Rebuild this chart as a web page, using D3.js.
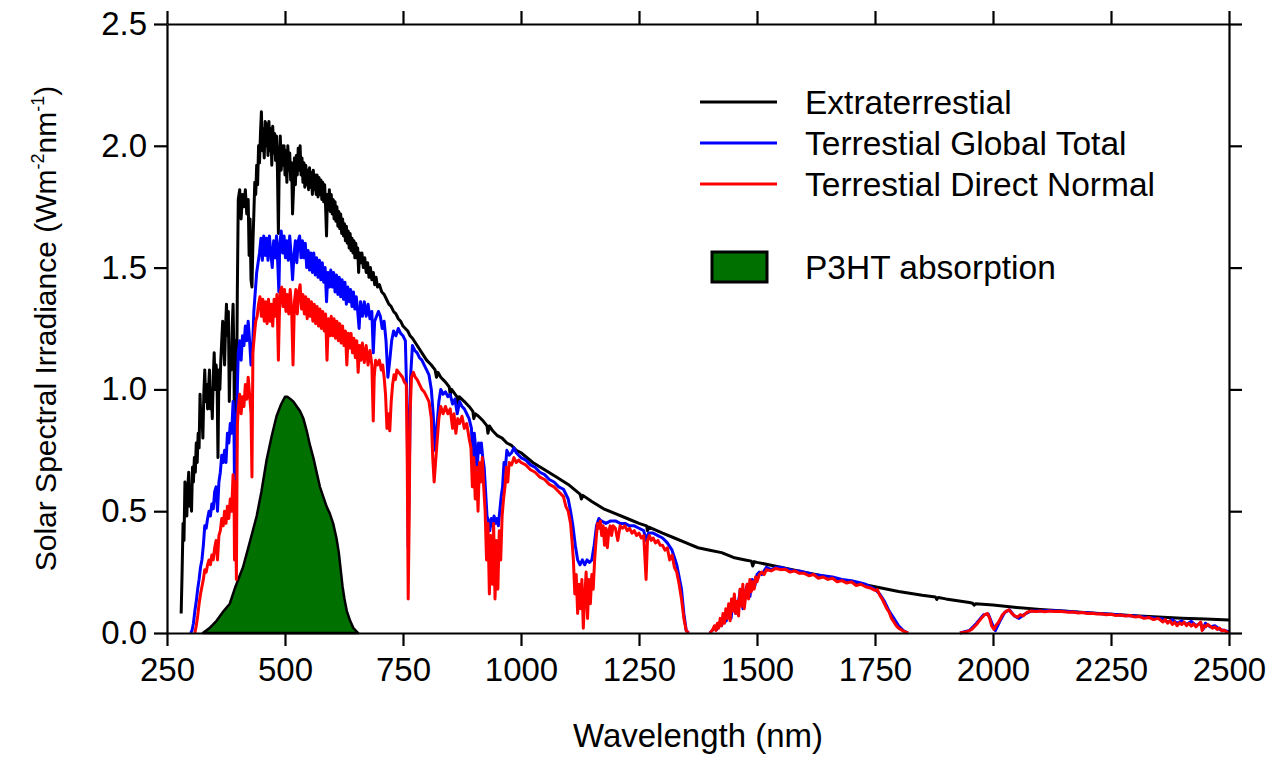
<!DOCTYPE html>
<html>
<head>
<meta charset="utf-8">
<script src="https://cdn.jsdelivr.net/npm/d3@7"></script>
<style>
  body { margin: 0; background: #fff; }
  svg text { font-family: "Liberation Sans", Arial, Helvetica, sans-serif; fill: #000; }
</style>
</head>
<body>
<div id="chart"></div>
<script>
// spectra: [wavelength (nm), irradiance (W m-2 nm-1)]
// null = no curve drawn (absorbed to zero)
const extraterrestrial = [
  [280,0.08],[282,0.25],[284,0.45],[286,0.38],[288,0.62],[290,0.55],[292,0.48],[294,0.6],[296,0.66],[298,0.52],
  [300,0.6],[302,0.5],[304,0.68],[306,0.62],[308,0.72],[310,0.66],[312,0.78],[314,0.7],[316,0.82],[318,0.76],
  [320,0.98],[322,0.85],[324,0.9],[326,0.8],[328,0.98],[330,1.08],[332,0.95],[334,1.02],[336,0.92],[338,1.0],
  [340,1.08],[342,0.92],[344,1.0],[346,0.88],[348,1.05],[350,1.15],[352,1.0],[354,1.1],[356,1.05],[358,0.72],
  [360,1.08],[362,1.0],[364,1.12],[366,1.2],[368,1.28],[370,1.2],[372,1.1],[374,1.25],[376,1.35],[378,1.22],
  [380,1.32],[382,0.95],[384,1.15],[386,1.08],[388,1.25],[390,1.35],[392,1.1],[393,0.75],[395,1.2],[397,0.85],
  [399,1.4],[401,1.78],[404,1.82],[407,1.7],[410,1.8],[413,1.75],[416,1.82],[419,1.72],[422,1.78],[424,1.55],
  [426,1.7],[428,1.45],[430,1.42],[432,1.6],[434,1.72],[436,1.85],[438,1.8],[440,1.92],[442,1.84],[444,2.0],
  [446,1.93],[448,2.05],[450,2.14],[452,1.98],[454,2.07],[456,1.95],[458,2.1],[460,2.0],[462,2.09],[464,1.96],
  [466,2.1],[468,1.98],[470,2.07],[472,1.92],[474,2.08],[476,1.97],[478,2.05],[480,1.94],[482,2.04],[484,1.9],
  [486,1.64],[488,1.95],[490,2.04],[492,1.9],[494,2.0],[496,1.92],[498,2.0],[500,1.88],[502,1.98],[504,1.85],
  [506,2.0],[508,1.9],[510,1.97],[512,1.86],[514,1.93],[516,1.72],[518,1.82],[520,1.95],[522,1.84],[524,1.96],
  [526,1.88],[528,1.99],[530,1.9],[532,2.0],[534,1.88],[536,1.95],[538,1.85],[540,1.93],[542,1.83],[544,1.92],
  [546,1.84],[548,1.9],[550,1.82],[552,1.91],[554,1.83],[556,1.89],[558,1.8],[560,1.9],[562,1.82],[564,1.88],
  [566,1.8],[568,1.88],[570,1.79],[572,1.87],[574,1.8],[576,1.86],[578,1.78],[580,1.85],[582,1.77],[584,1.84],
  [586,1.75],[588,1.63],[590,1.8],[592,1.74],[594,1.82],[596,1.73],[598,1.8],[600,1.72],[602,1.78],[604,1.7],
  [606,1.77],[608,1.69],[610,1.75],[612,1.67],[614,1.73],[616,1.66],[618,1.72],[620,1.64],[622,1.7],[624,1.63],
  [626,1.68],[628,1.61],[630,1.67],[632,1.6],[634,1.65],[636,1.58],[638,1.64],[640,1.57],[642,1.62],[644,1.56],
  [646,1.61],[648,1.54],[650,1.6],[652,1.54],[654,1.58],[656,1.48],[658,1.56],[660,1.52],[663,1.56],[666,1.5],
  [669,1.54],[672,1.48],[675,1.52],[678,1.46],[681,1.5],[684,1.45],[687,1.48],[690,1.43],[693,1.46],[696,1.42],
  [700,1.43],[705,1.4],[710,1.39],[715,1.37],
  [720,1.35],[725,1.34],[730,1.32],[735,1.31],[740,1.29],[745,1.28],[750,1.26],[755,1.25],[760,1.24],[765,1.22],
  [770,1.21],[780,1.18],[790,1.15],[800,1.12],[810,1.1],[818,1.08],[821,1.05],[824,1.07],[830,1.05],[840,1.03],
  [848,1.01],[850,0.98],[853,1.0],[864,0.97],[866,0.94],[869,0.97],[880,0.95],[890,0.93],[898,0.91],[900,0.88],
  [903,0.9],[910,0.89],[920,0.87],[928,0.85],[930,0.82],[933,0.85],[940,0.83],[950,0.81],[960,0.8],[970,0.78],
  [980,0.77],[990,0.75],[1000,0.74],[1025,0.7],[1050,0.67],[1075,0.64],[1100,0.61],[1125,0.57],[1128,0.55],
  [1131,0.565],[1150,0.54],[1175,0.51],[1200,0.49],[1225,0.47],[1250,0.45],[1266,0.44],[1268,0.42],[1271,0.435],
  [1300,0.41],[1325,0.39],[1350,0.37],[1375,0.35],[1400,0.34],[1425,0.33],[1450,0.31],[1475,0.3],[1488,0.295],
  [1491,0.275],[1494,0.293],[1500,0.29],[1550,0.27],[1600,0.25],[1650,0.23],[1700,0.21],[1750,0.19],[1800,0.17],
  [1850,0.155],[1878,0.148],[1881,0.138],[1884,0.146],[1900,0.14],[1950,0.125],[1957,0.122],[1960,0.114],
  [1963,0.12],[2000,0.115],[2050,0.105],[2100,0.097],[2150,0.09],[2200,0.083],[2250,0.077],[2300,0.071],
  [2350,0.066],[2400,0.061],[2450,0.057],[2500,0.053]
];

const globalTotal = [
  [300,0],[303,0.01],[306,0.04],[309,0.09],[312,0.13],[315,0.18],[318,0.22],[321,0.27],[324,0.3],[327,0.36],
  [330,0.44],[333,0.43],[336,0.47],[339,0.5],[342,0.48],[345,0.53],[348,0.51],[351,0.58],[354,0.6],[357,0.5],
  [360,0.62],[363,0.66],[366,0.73],[369,0.7],[372,0.75],[375,0.7],[378,0.82],[381,0.78],[384,0.86],[387,0.82],
  [390,0.95],[392,0.85],[393,0.58],[395,0.9],[397,0.68],[399,1.0],[401,1.15],[404,1.2],[407,1.12],[410,1.22],
  [413,1.18],[416,1.26],[419,1.2],[422,1.28],[425,1.2],[428,1.1],[431,1.15],[434,1.32],[437,1.4],[440,1.48],
  [443,1.52],[446,1.56],[449,1.62],[452,1.53],[455,1.63],[458,1.55],[461,1.62],[464,1.53],[467,1.63],[470,1.56],
  [473,1.5],[476,1.61],[479,1.54],[482,1.63],[485,1.5],[487,1.4],[489,1.6],[492,1.65],[495,1.56],[498,1.63],
  [501,1.54],[504,1.61],[507,1.53],[510,1.63],[513,1.55],[516,1.45],[519,1.55],[522,1.61],[525,1.52],[528,1.61],
  [531,1.63],[534,1.54],[537,1.61],[540,1.54],[543,1.6],[546,1.5],[549,1.57],[552,1.49],[555,1.56],[558,1.48],
  [561,1.56],[564,1.47],[567,1.54],[570,1.46],[573,1.53],[576,1.45],[579,1.52],[582,1.44],[585,1.5],[588,1.36],
  [591,1.48],[594,1.42],[597,1.49],[600,1.42],[603,1.48],[606,1.4],[609,1.47],[612,1.39],[615,1.46],[618,1.38],
  [621,1.45],[624,1.37],[627,1.44],[630,1.35],[633,1.42],[636,1.36],[639,1.41],[642,1.34],[645,1.4],[648,1.33],
  [651,1.38],[654,1.32],[657,1.25],[660,1.36],[664,1.3],[668,1.36],[672,1.3],[676,1.35],[680,1.29],[684,1.32],
  [687,1.15],[690,1.28],[694,1.3],[698,1.32],[702,1.3],[706,1.25],[710,1.28],[714,1.2],[718,1.05],[722,1.12],
  [726,1.2],[730,1.24],[735,1.22],[740,1.25],[745,1.23],[750,1.22],[755,1.2],[759,0.9],[761,0.35],[763,0.6],
  [766,1.05],[770,1.18],[775,1.16],[780,1.15],[785,1.13],[790,1.12],[795,1.1],[800,1.08],[805,1.06],[810,1.0],
  [814,0.9],[818,0.75],[822,0.85],[826,0.95],[830,1.0],[835,0.98],[840,0.99],[845,0.97],[850,0.98],[855,0.94],
  [860,0.96],[865,0.9],[870,0.95],[875,0.93],[880,0.92],[885,0.9],[890,0.88],[895,0.84],[898,0.7],[901,0.82],
  [904,0.76],[907,0.66],[910,0.78],[913,0.74],[916,0.78],[919,0.72],[922,0.68],[925,0.58],[928,0.48],[931,0.46],
  [934,0.42],[937,0.47],[940,0.44],[943,0.48],[946,0.45],[949,0.47],[952,0.44],[955,0.5],[958,0.56],[961,0.6],
  [964,0.7],[967,0.68],[970,0.75],[975,0.73],[980,0.74],[985,0.76],[990,0.74],[995,0.73],[1000,0.72],[1010,0.71],
  [1020,0.69],[1030,0.68],[1040,0.66],[1050,0.65],[1060,0.63],[1070,0.62],[1080,0.6],[1090,0.59],[1100,0.55],
  [1105,0.5],[1110,0.44],[1115,0.36],[1120,0.3],[1125,0.28],[1130,0.3],[1135,0.28],[1140,0.3],[1145,0.29],
  [1150,0.3],[1155,0.36],[1160,0.44],[1165,0.47],[1170,0.46],[1180,0.45],[1190,0.46],[1200,0.46],[1210,0.45],
  [1220,0.45],[1230,0.44],[1240,0.44],[1250,0.43],[1260,0.42],[1265,0.38],[1270,0.41],[1280,0.41],[1290,0.4],
  [1300,0.39],[1310,0.37],[1320,0.34],[1330,0.28],[1340,0.18],[1345,0.08],[1350,0.01],[1355,0],[1375,null],
  [1400,0],[1405,0.01],[1410,0.02],[1415,0.015],[1420,0.04],[1425,0.03],[1430,0.07],[1435,0.05],[1440,0.1],
  [1445,0.06],[1450,0.14],[1455,0.08],[1460,0.12],[1465,0.18],[1470,0.1],[1475,0.17],[1480,0.2],[1485,0.15],
  [1490,0.22],[1495,0.19],[1500,0.24],[1505,0.25],[1510,0.24],[1520,0.27],[1530,0.26],[1540,0.27],[1550,0.27],
  [1560,0.265],[1570,0.26],[1580,0.255],[1590,0.255],[1600,0.25],[1620,0.24],[1640,0.235],[1660,0.23],
  [1680,0.22],[1700,0.215],[1720,0.205],[1730,0.2],[1740,0.19],[1750,0.18],[1760,0.16],[1770,0.13],[1780,0.09],
  [1790,0.06],[1800,0.03],[1810,0.01],[1820,0],[1870,null],
  [1930,0],[1950,0.01],[1965,0.04],[1980,0.075],[1990,0.078],[2000,0.03],[2005,0.01],[2015,0.05],[2025,0.085],
  [2035,0.095],[2045,0.07],[2055,0.06],[2065,0.075],[2080,0.09],[2100,0.09],[2120,0.092],[2140,0.09],
  [2160,0.088],[2180,0.085],[2200,0.083],[2220,0.08],[2240,0.078],[2260,0.076],[2280,0.072],[2300,0.07],
  [2320,0.066],[2340,0.062],[2360,0.058],[2370,0.045],[2380,0.055],[2390,0.04],[2400,0.05],[2410,0.035],
  [2420,0.048],[2430,0.03],[2440,0.04],[2445,0.015],[2450,0.04],[2460,0.025],[2470,0.03],[2480,0.015],
  [2490,0.01],[2500,0.005]
];

const directNormal = [
  [309,0],[312,0.03],[315,0.07],[318,0.12],[321,0.16],[324,0.19],[327,0.22],[330,0.26],[333,0.25],[336,0.28],
  [339,0.3],[342,0.28],[345,0.32],[348,0.3],[351,0.35],[354,0.38],[357,0.3],[360,0.4],[363,0.42],[366,0.47],
  [369,0.44],[372,0.5],[375,0.45],[378,0.52],[381,0.47],[384,0.55],[387,0.5],[390,0.65],[392,0.58],[393,0.3],
  [395,0.62],[397,0.22],[399,0.85],[401,0.92],[404,0.98],[407,0.9],[410,0.97],[413,0.93],[416,1.02],[419,0.96],
  [422,1.05],[425,0.98],[428,0.9],[430,0.64],[432,1.15],[435,1.22],[438,1.28],[441,1.3],[444,1.35],[447,1.38],
  [450,1.3],[453,1.37],[456,1.28],[459,1.36],[462,1.27],[465,1.37],[468,1.28],[471,1.35],[474,1.26],[477,1.37],
  [480,1.3],[483,1.39],[486,1.12],[488,1.3],[490,1.4],[493,1.42],[496,1.34],[499,1.41],[502,1.32],[505,1.39],
  [508,1.31],[511,1.41],[514,1.33],[517,1.1],[520,1.36],[523,1.41],[526,1.31],[529,1.4],[532,1.43],[535,1.33],
  [538,1.39],[541,1.31],[544,1.38],[547,1.29],[550,1.37],[553,1.3],[556,1.36],[559,1.28],[562,1.35],[565,1.27],
  [568,1.34],[571,1.26],[574,1.33],[577,1.25],[580,1.32],[583,1.24],[586,1.31],[589,1.12],[592,1.29],[595,1.22],
  [598,1.3],[601,1.22],[604,1.29],[607,1.21],[610,1.28],[613,1.2],[616,1.27],[619,1.19],[622,1.26],[625,1.18],
  [628,1.24],[631,1.1],[634,1.23],[637,1.17],[640,1.23],[643,1.15],[646,1.21],[649,1.13],[652,1.2],[655,1.07],
  [658,1.18],[661,1.12],[664,1.19],[668,1.11],[672,1.18],[676,1.1],[680,1.16],[684,1.1],[687,0.87],[689,1.05],
  [692,1.12],[696,1.1],[700,1.12],[704,1.08],[707,1.1],[710,1.05],[713,0.98],[716,0.84],[719,0.9],[722,0.83],
  [725,0.95],[728,1.02],[731,1.06],[734,1.04],[737,1.08],[741,1.07],[745,1.06],[749,1.05],[753,1.03],[757,1.02],
  [759,0.7],[761,0.14],[763,0.45],[765,0.9],[768,1.05],[772,1.07],[776,1.05],[780,1.04],[785,1.02],[790,1.0],
  [795,0.99],[800,0.97],[805,0.95],[810,0.88],[813,0.72],[816,0.62],[819,0.7],[822,0.78],[826,0.88],[830,0.93],
  [835,0.9],[840,0.93],[845,0.9],[850,0.92],[855,0.84],[858,0.9],[862,0.82],[866,0.88],[870,0.86],[875,0.89],
  [880,0.84],[885,0.86],[890,0.8],[894,0.76],[897,0.6],[900,0.72],[903,0.55],[906,0.68],[909,0.5],[912,0.7],
  [915,0.62],[918,0.72],[921,0.6],[924,0.5],[927,0.3],[930,0.45],[933,0.16],[936,0.4],[939,0.2],[942,0.45],
  [945,0.14],[948,0.38],[951,0.18],[954,0.42],[957,0.3],[960,0.48],[963,0.55],[966,0.6],[969,0.68],[972,0.62],
  [975,0.7],[980,0.69],[985,0.72],[990,0.7],[995,0.71],[1000,0.7],[1010,0.69],[1020,0.67],[1030,0.66],
  [1040,0.64],[1050,0.63],[1060,0.61],[1070,0.6],[1080,0.58],[1090,0.56],[1095,0.52],[1100,0.5],[1105,0.45],
  [1108,0.38],[1111,0.3],[1114,0.16],[1117,0.24],[1120,0.08],[1123,0.2],[1126,0.1],[1129,0.22],[1132,0.02],
  [1135,0.15],[1138,0.25],[1141,0.06],[1144,0.22],[1147,0.12],[1150,0.24],[1153,0.18],[1156,0.3],[1159,0.38],
  [1162,0.45],[1165,0.43],[1168,0.46],[1171,0.4],[1174,0.44],[1177,0.36],[1180,0.43],[1183,0.35],[1186,0.42],
  [1189,0.44],[1192,0.4],[1195,0.44],[1200,0.43],[1205,0.38],[1210,0.44],[1215,0.43],[1220,0.44],[1225,0.42],
  [1230,0.43],[1235,0.41],[1240,0.42],[1245,0.4],[1250,0.41],[1255,0.39],[1260,0.4],[1265,0.22],[1268,0.38],
  [1272,0.4],[1276,0.38],[1280,0.39],[1285,0.37],[1290,0.38],[1295,0.36],[1300,0.36],[1305,0.34],[1310,0.35],
  [1315,0.3],[1320,0.32],[1325,0.27],[1330,0.25],[1335,0.2],[1340,0.14],[1345,0.06],[1350,0.01],[1355,0],
  [1375,null],
  [1400,0],[1405,0.01],[1410,0.03],[1413,0.01],[1416,0.04],[1419,0.02],[1422,0.06],[1425,0.03],[1428,0.08],
  [1431,0.04],[1434,0.1],[1437,0.06],[1440,0.12],[1443,0.05],[1446,0.14],[1449,0.09],[1452,0.16],[1455,0.08],
  [1458,0.13],[1461,0.07],[1464,0.18],[1467,0.11],[1470,0.2],[1473,0.1],[1476,0.15],[1479,0.2],[1482,0.14],
  [1485,0.22],[1488,0.17],[1491,0.21],[1494,0.18],[1497,0.23],[1500,0.21],[1505,0.24],[1510,0.25],[1515,0.24],
  [1520,0.26],[1530,0.255],[1540,0.265],[1550,0.26],[1560,0.262],[1570,0.25],[1580,0.255],[1590,0.245],
  [1600,0.245],[1610,0.235],[1620,0.24],[1630,0.225],[1640,0.23],[1650,0.22],[1660,0.225],[1670,0.21],
  [1680,0.215],[1690,0.205],[1700,0.21],[1710,0.195],[1720,0.2],[1730,0.19],[1740,0.185],[1750,0.175],
  [1755,0.178],[1760,0.155],[1765,0.14],[1770,0.12],[1775,0.1],[1780,0.085],[1785,0.06],[1790,0.045],
  [1795,0.03],[1800,0.02],[1810,0.008],[1820,0],[1870,null],
  [1930,0],[1945,0.005],[1955,0.015],[1965,0.035],[1975,0.06],[1982,0.075],[1988,0.08],[1993,0.06],[1997,0.03],
  [2002,0.015],[2006,0.03],[2012,0.045],[2020,0.075],[2028,0.09],[2034,0.095],[2040,0.08],[2046,0.07],
  [2052,0.065],[2058,0.075],[2064,0.07],[2072,0.085],[2080,0.09],[2090,0.088],[2100,0.09],[2110,0.087],
  [2120,0.09],[2130,0.088],[2140,0.089],[2150,0.087],[2160,0.085],[2170,0.086],[2180,0.082],[2190,0.084],
  [2200,0.08],[2210,0.081],[2220,0.078],[2230,0.079],[2240,0.075],[2250,0.077],[2260,0.072],[2270,0.074],
  [2280,0.07],[2290,0.072],[2300,0.066],[2310,0.068],[2320,0.06],[2330,0.064],[2340,0.055],[2350,0.06],
  [2360,0.045],[2365,0.055],[2370,0.04],[2375,0.05],[2380,0.035],[2385,0.045],[2390,0.03],[2395,0.042],
  [2400,0.035],[2405,0.045],[2410,0.03],[2415,0.04],[2420,0.028],[2425,0.038],[2430,0.025],[2435,0.035],
  [2440,0.045],[2443,0.01],[2447,0.03],[2450,0.025],[2455,0.035],[2460,0.028],[2465,0.02],[2470,0.025],
  [2475,0.015],[2480,0.02],[2485,0.008],[2490,0.012],[2495,0.004],[2500,0.002]
];

// P3HT absorption profile (arbitrary units on the same axis)
const p3htAbsorption = [
  [326,0],[340,0.02],[355,0.05],[370,0.09],[383,0.12],[395,0.19],[411,0.27],[425,0.37],[440,0.48],[450,0.58],
  [461,0.71],[472,0.81],[482,0.89],[492,0.94],[500,0.97],[505,0.97],[512,0.96],[518,0.95],[525,0.93],[532,0.91],
  [539,0.88],[546,0.83],[553,0.77],[560,0.72],[567,0.66],[574,0.6],[581,0.56],[588,0.52],[595,0.49],[602,0.45],
  [609,0.39],[614,0.33],[618,0.26],[622,0.19],[626,0.14],[631,0.09],[638,0.05],[645,0.02],[655,0]
];

const seriesNames = ["Extraterrestial", "Terrestial Global Total", "Terrestial Direct Normal"];
const areaName = "P3HT absorption";
const xTicks = [250, 500, 750, 1000, 1250, 1500, 1750, 2000, 2250, 2500];
const yTicks = [0, 0.5, 1.0, 1.5, 2.0, 2.5];

// set the dimensions and margins of the graph
const margin = { top: 24, right: 51, bottom: 125, left: 167 },
    width = 1062,
    height = 609;

const svg = d3.select("#chart")
    .append("svg")
    .attr("width", 1280)
    .attr("height", 758)
    .append("g")
    .attr("transform", `translate(${margin.left}, ${margin.top})`);

const x = d3.scaleLinear().domain([250, 2500]).range([0, width]);
const y = d3.scaleLinear().domain([0, 2.5]).range([height, 0]);

// P3HT filled area
const area = d3.area()
    .x(d => x(d[0]))
    .y0(y(0))
    .y1(d => y(d[1]));

svg.append("path")
    .datum(p3htAbsorption)
    .attr("d", area)
    .attr("fill", "#007000")
    .attr("stroke", "#000")
    .attr("stroke-width", 2.5)
    .attr("stroke-linejoin", "round");

// spectra
const line = d3.line()
    .defined(d => d[1] != null)
    .x(d => x(d[0]))
    .y(d => y(d[1]));

const colors = ["#000000", "#0000ff", "#ff0000"];
[extraterrestrial, globalTotal, directNormal].forEach((s, i) => {
    svg.append("path")
        .datum(s)
        .attr("d", line)
        .attr("fill", "none")
        .attr("stroke", colors[i])
        .attr("stroke-width", 3)
        .attr("stroke-linejoin", "round");
});

// axes (all four sides, ticks pointing out)
function styleAxis(g) {
    g.attr("font-family", null).attr("font-size", null);
    g.select(".domain").attr("stroke-width", 2.2);
    g.selectAll(".tick line").attr("stroke-width", 2.2);
    g.selectAll(".tick text").style("font-size", "33px");
}

svg.append("g")
    .attr("transform", `translate(0, ${height})`)
    .call(d3.axisBottom(x).tickValues(xTicks).tickFormat(d3.format("d")).tickSize(13).tickPadding(12).tickSizeOuter(0))
    .call(styleAxis);

svg.append("g")
    .call(d3.axisLeft(y).tickValues(yTicks).tickFormat(d3.format(".1f")).tickSize(13).tickPadding(7).tickSizeOuter(0))
    .call(styleAxis);

svg.append("g")
    .call(d3.axisTop(x).tickValues(xTicks).tickFormat("").tickSize(13).tickSizeOuter(0))
    .call(styleAxis);

svg.append("g")
    .attr("transform", `translate(${width}, 0)`)
    .call(d3.axisRight(y).tickValues(yTicks).tickFormat("").tickSize(13).tickSizeOuter(0))
    .call(styleAxis);

// axis titles
svg.append("text")
    .attr("x", width / 2)
    .attr("y", 723)
    .attr("text-anchor", "middle")
    .style("font-size", "33px")
    .text("Wavelength (nm)");

const yTitle = svg.append("text")
    .attr("transform", `translate(${56 - margin.left}, ${height / 2}) rotate(-90)`)
    .attr("text-anchor", "middle")
    .style("font-size", "30px");
yTitle.append("tspan").text("Solar Spectral Irradiance (Wm");
yTitle.append("tspan").attr("dy", -12).style("font-size", "18px").text("-2");
yTitle.append("tspan").attr("dy", 12).text("nm");
yTitle.append("tspan").attr("dy", -12).style("font-size", "18px").text("-1");
yTitle.append("tspan").attr("dy", 12).text(")");

// legend
const legend = svg.append("g")
    .attr("transform", `translate(${700 - margin.left}, ${102 - margin.top})`);

seriesNames.forEach((name, i) => {
    const row = legend.append("g").attr("transform", `translate(0, ${i * 41})`);
    row.append("line")
        .attr("x1", 0).attr("x2", 77)
        .attr("stroke", colors[i])
        .attr("stroke-width", 3);
    row.append("text")
        .attr("x", 105)
        .attr("dy", "0.35em")
        .style("font-size", "33.5px")
        .text(name);
});

const areaRow = legend.append("g").attr("transform", "translate(0, 165)");
areaRow.append("rect")
    .attr("x", 12).attr("y", -15)
    .attr("width", 55).attr("height", 30)
    .attr("fill", "#007000")
    .attr("stroke", "#000")
    .attr("stroke-width", 3);
areaRow.append("text")
    .attr("x", 105)
    .attr("dy", "0.35em")
    .style("font-size", "33.5px")
    .text(areaName);
</script>
</body>
</html>
